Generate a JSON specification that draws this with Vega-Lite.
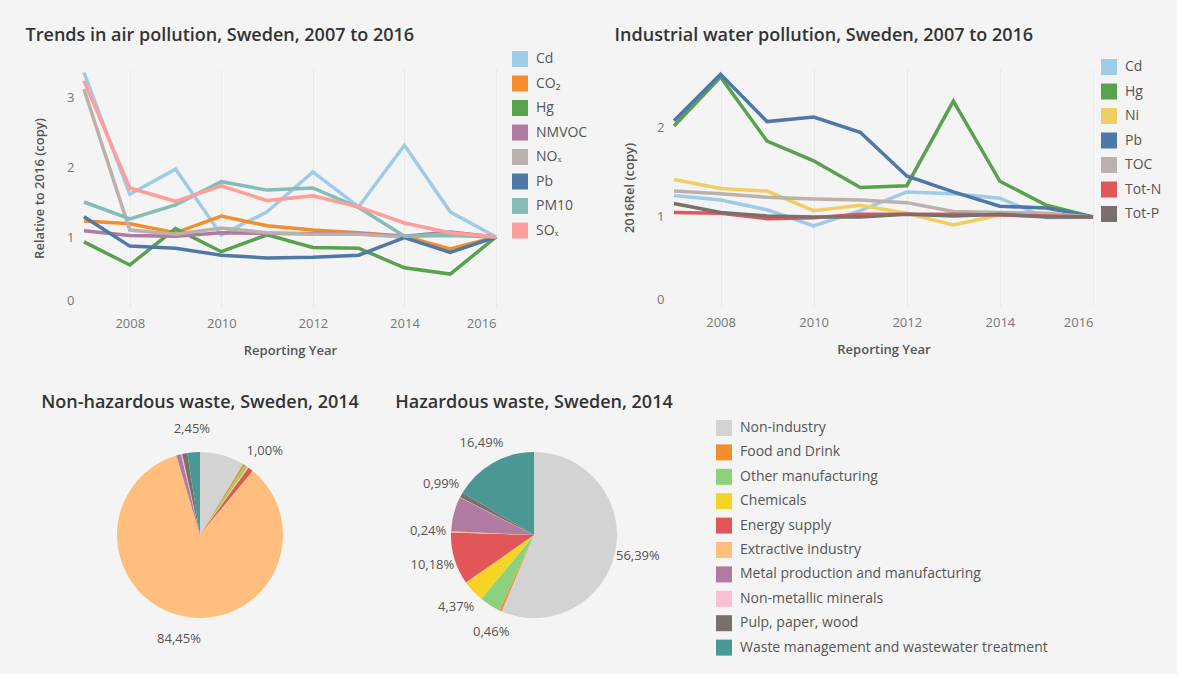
{
  "$schema": "https://vega.github.io/schema/vega-lite/v6.json",
  "background": "#f4f4f4",
  "padding": {"left": 25, "top": 27, "right": 15, "bottom": 18},
  "config": {
    "font": "Open Sans",
    "view": {"stroke": null},
    "axis": {"domain": false, "ticks": false, "labelColor": "#777777", "labelFontSize": 13, "titleColor": "#555555", "titleFontSize": 13, "titleFontWeight": 600, "grid": false},
    "title": {"fontSize": 18, "fontWeight": 600, "color": "#333333"},
    "legend": {"symbolType": "square", "symbolSize": 256, "labelFontSize": 14, "labelColor": "#555555", "rowPadding": 8.5, "labelOffset": 8, "symbolStrokeWidth": 0, "labelLimit": 400}
  },
  "datasets": {
    "air": [
      {"year": 2007, "pollutant": "Cd", "value": 3.35}, {"year": 2008, "pollutant": "Cd", "value": 1.61}, {"year": 2009, "pollutant": "Cd", "value": 1.97}, {"year": 2010, "pollutant": "Cd", "value": 1.03}, {"year": 2011, "pollutant": "Cd", "value": 1.36}, {"year": 2012, "pollutant": "Cd", "value": 1.93}, {"year": 2013, "pollutant": "Cd", "value": 1.43}, {"year": 2014, "pollutant": "Cd", "value": 2.31}, {"year": 2015, "pollutant": "Cd", "value": 1.36}, {"year": 2016, "pollutant": "Cd", "value": 1.0},
      {"year": 2007, "pollutant": "CO₂", "value": 1.23}, {"year": 2008, "pollutant": "CO₂", "value": 1.19}, {"year": 2009, "pollutant": "CO₂", "value": 1.06}, {"year": 2010, "pollutant": "CO₂", "value": 1.3}, {"year": 2011, "pollutant": "CO₂", "value": 1.16}, {"year": 2012, "pollutant": "CO₂", "value": 1.1}, {"year": 2013, "pollutant": "CO₂", "value": 1.06}, {"year": 2014, "pollutant": "CO₂", "value": 1.01}, {"year": 2015, "pollutant": "CO₂", "value": 0.83}, {"year": 2016, "pollutant": "CO₂", "value": 1.0},
      {"year": 2007, "pollutant": "Hg", "value": 0.93}, {"year": 2008, "pollutant": "Hg", "value": 0.6}, {"year": 2009, "pollutant": "Hg", "value": 1.12}, {"year": 2010, "pollutant": "Hg", "value": 0.79}, {"year": 2011, "pollutant": "Hg", "value": 1.03}, {"year": 2012, "pollutant": "Hg", "value": 0.85}, {"year": 2013, "pollutant": "Hg", "value": 0.84}, {"year": 2014, "pollutant": "Hg", "value": 0.56}, {"year": 2015, "pollutant": "Hg", "value": 0.47}, {"year": 2016, "pollutant": "Hg", "value": 1.0},
      {"year": 2007, "pollutant": "NMVOC", "value": 1.09}, {"year": 2008, "pollutant": "NMVOC", "value": 1.02}, {"year": 2009, "pollutant": "NMVOC", "value": 1.01}, {"year": 2010, "pollutant": "NMVOC", "value": 1.06}, {"year": 2011, "pollutant": "NMVOC", "value": 1.05}, {"year": 2012, "pollutant": "NMVOC", "value": 1.05}, {"year": 2013, "pollutant": "NMVOC", "value": 1.05}, {"year": 2014, "pollutant": "NMVOC", "value": 1.01}, {"year": 2015, "pollutant": "NMVOC", "value": 1.07}, {"year": 2016, "pollutant": "NMVOC", "value": 1.0},
      {"year": 2007, "pollutant": "NOₓ", "value": 3.11}, {"year": 2008, "pollutant": "NOₓ", "value": 1.1}, {"year": 2009, "pollutant": "NOₓ", "value": 1.04}, {"year": 2010, "pollutant": "NOₓ", "value": 1.13}, {"year": 2011, "pollutant": "NOₓ", "value": 1.06}, {"year": 2012, "pollutant": "NOₓ", "value": 1.04}, {"year": 2013, "pollutant": "NOₓ", "value": 1.04}, {"year": 2014, "pollutant": "NOₓ", "value": 1.0}, {"year": 2015, "pollutant": "NOₓ", "value": 1.05}, {"year": 2016, "pollutant": "NOₓ", "value": 1.0},
      {"year": 2007, "pollutant": "Pb", "value": 1.29}, {"year": 2008, "pollutant": "Pb", "value": 0.87}, {"year": 2009, "pollutant": "Pb", "value": 0.84}, {"year": 2010, "pollutant": "Pb", "value": 0.74}, {"year": 2011, "pollutant": "Pb", "value": 0.7}, {"year": 2012, "pollutant": "Pb", "value": 0.71}, {"year": 2013, "pollutant": "Pb", "value": 0.74}, {"year": 2014, "pollutant": "Pb", "value": 0.99}, {"year": 2015, "pollutant": "Pb", "value": 0.78}, {"year": 2016, "pollutant": "Pb", "value": 1.0},
      {"year": 2007, "pollutant": "PM10", "value": 1.5}, {"year": 2008, "pollutant": "PM10", "value": 1.26}, {"year": 2009, "pollutant": "PM10", "value": 1.46}, {"year": 2010, "pollutant": "PM10", "value": 1.79}, {"year": 2011, "pollutant": "PM10", "value": 1.67}, {"year": 2012, "pollutant": "PM10", "value": 1.7}, {"year": 2013, "pollutant": "PM10", "value": 1.42}, {"year": 2014, "pollutant": "PM10", "value": 1.01}, {"year": 2015, "pollutant": "PM10", "value": 1.02}, {"year": 2016, "pollutant": "PM10", "value": 1.0},
      {"year": 2007, "pollutant": "SOₓ", "value": 3.23}, {"year": 2008, "pollutant": "SOₓ", "value": 1.7}, {"year": 2009, "pollutant": "SOₓ", "value": 1.51}, {"year": 2010, "pollutant": "SOₓ", "value": 1.73}, {"year": 2011, "pollutant": "SOₓ", "value": 1.52}, {"year": 2012, "pollutant": "SOₓ", "value": 1.59}, {"year": 2013, "pollutant": "SOₓ", "value": 1.43}, {"year": 2014, "pollutant": "SOₓ", "value": 1.2}, {"year": 2015, "pollutant": "SOₓ", "value": 1.06}, {"year": 2016, "pollutant": "SOₓ", "value": 1.0}
    ],
    "water": [
      {"year": 2007, "pollutant": "Cd", "value": 1.24}, {"year": 2008, "pollutant": "Cd", "value": 1.19}, {"year": 2009, "pollutant": "Cd", "value": 1.08}, {"year": 2010, "pollutant": "Cd", "value": 0.9}, {"year": 2011, "pollutant": "Cd", "value": 1.07}, {"year": 2012, "pollutant": "Cd", "value": 1.28}, {"year": 2013, "pollutant": "Cd", "value": 1.26}, {"year": 2014, "pollutant": "Cd", "value": 1.21}, {"year": 2015, "pollutant": "Cd", "value": 0.99}, {"year": 2016, "pollutant": "Cd", "value": 1.0},
      {"year": 2007, "pollutant": "Hg", "value": 2.02}, {"year": 2008, "pollutant": "Hg", "value": 2.57}, {"year": 2009, "pollutant": "Hg", "value": 1.85}, {"year": 2010, "pollutant": "Hg", "value": 1.63}, {"year": 2011, "pollutant": "Hg", "value": 1.33}, {"year": 2012, "pollutant": "Hg", "value": 1.35}, {"year": 2013, "pollutant": "Hg", "value": 2.3}, {"year": 2014, "pollutant": "Hg", "value": 1.4}, {"year": 2015, "pollutant": "Hg", "value": 1.13}, {"year": 2016, "pollutant": "Hg", "value": 1.0},
      {"year": 2007, "pollutant": "Ni", "value": 1.42}, {"year": 2008, "pollutant": "Ni", "value": 1.32}, {"year": 2009, "pollutant": "Ni", "value": 1.29}, {"year": 2010, "pollutant": "Ni", "value": 1.07}, {"year": 2011, "pollutant": "Ni", "value": 1.13}, {"year": 2012, "pollutant": "Ni", "value": 1.04}, {"year": 2013, "pollutant": "Ni", "value": 0.91}, {"year": 2014, "pollutant": "Ni", "value": 1.02}, {"year": 2015, "pollutant": "Ni", "value": 1.02}, {"year": 2016, "pollutant": "Ni", "value": 1.0},
      {"year": 2007, "pollutant": "Pb", "value": 2.08}, {"year": 2008, "pollutant": "Pb", "value": 2.6}, {"year": 2009, "pollutant": "Pb", "value": 2.07}, {"year": 2010, "pollutant": "Pb", "value": 2.12}, {"year": 2011, "pollutant": "Pb", "value": 1.95}, {"year": 2012, "pollutant": "Pb", "value": 1.46}, {"year": 2013, "pollutant": "Pb", "value": 1.28}, {"year": 2014, "pollutant": "Pb", "value": 1.12}, {"year": 2015, "pollutant": "Pb", "value": 1.1}, {"year": 2016, "pollutant": "Pb", "value": 1.0},
      {"year": 2007, "pollutant": "TOC", "value": 1.29}, {"year": 2008, "pollutant": "TOC", "value": 1.26}, {"year": 2009, "pollutant": "TOC", "value": 1.22}, {"year": 2010, "pollutant": "TOC", "value": 1.2}, {"year": 2011, "pollutant": "TOC", "value": 1.19}, {"year": 2012, "pollutant": "TOC", "value": 1.16}, {"year": 2013, "pollutant": "TOC", "value": 1.06}, {"year": 2014, "pollutant": "TOC", "value": 1.05}, {"year": 2015, "pollutant": "TOC", "value": 1.04}, {"year": 2016, "pollutant": "TOC", "value": 1.0},
      {"year": 2007, "pollutant": "Tot-N", "value": 1.05}, {"year": 2008, "pollutant": "Tot-N", "value": 1.04}, {"year": 2009, "pollutant": "Tot-N", "value": 0.98}, {"year": 2010, "pollutant": "Tot-N", "value": 0.99}, {"year": 2011, "pollutant": "Tot-N", "value": 1.03}, {"year": 2012, "pollutant": "Tot-N", "value": 1.03}, {"year": 2013, "pollutant": "Tot-N", "value": 1.03}, {"year": 2014, "pollutant": "Tot-N", "value": 1.02}, {"year": 2015, "pollutant": "Tot-N", "value": 1.01}, {"year": 2016, "pollutant": "Tot-N", "value": 1.0},
      {"year": 2007, "pollutant": "Tot-P", "value": 1.15}, {"year": 2008, "pollutant": "Tot-P", "value": 1.05}, {"year": 2009, "pollutant": "Tot-P", "value": 1.01}, {"year": 2010, "pollutant": "Tot-P", "value": 1.0}, {"year": 2011, "pollutant": "Tot-P", "value": 1.0}, {"year": 2012, "pollutant": "Tot-P", "value": 1.03}, {"year": 2013, "pollutant": "Tot-P", "value": 1.01}, {"year": 2014, "pollutant": "Tot-P", "value": 1.03}, {"year": 2015, "pollutant": "Tot-P", "value": 1.0}, {"year": 2016, "pollutant": "Tot-P", "value": 1.0}
    ],
    "nonhaz": [
      {"idx": 1, "sector": "Non-industry", "pct": 8.70},
      {"idx": 2, "sector": "Food and Drink", "pct": 0.45},
      {"idx": 3, "sector": "Other manufacturing", "pct": 0.55},
      {"idx": 4, "sector": "Chemicals", "pct": 0.25},
      {"idx": 5, "sector": "Energy supply", "pct": 1.00},
      {"idx": 6, "sector": "Extractive industry", "pct": 84.45},
      {"idx": 7, "sector": "Metal production and manufacturing", "pct": 0.95},
      {"idx": 8, "sector": "Non-metallic minerals", "pct": 0.20},
      {"idx": 9, "sector": "Pulp, paper, wood", "pct": 1.00},
      {"idx": 10, "sector": "Waste management and wastewater treatment", "pct": 2.45}
    ],
    "haz": [
      {"idx": 1, "sector": "Non-industry", "pct": 56.39},
      {"idx": 2, "sector": "Food and Drink", "pct": 0.46},
      {"idx": 3, "sector": "Other manufacturing", "pct": 4.10},
      {"idx": 4, "sector": "Chemicals", "pct": 4.37},
      {"idx": 5, "sector": "Energy supply", "pct": 10.18},
      {"idx": 6, "sector": "Extractive industry", "pct": 0.24},
      {"idx": 7, "sector": "Metal production and manufacturing", "pct": 6.70},
      {"idx": 8, "sector": "Non-metallic minerals", "pct": 0.08},
      {"idx": 9, "sector": "Pulp, paper, wood", "pct": 0.99},
      {"idx": 10, "sector": "Waste management and wastewater treatment", "pct": 16.49}
    ]
  },
  "vconcat": [
    {
      "hconcat": [
        {
          "name": "airv",
          "title": {"text": "Trends in air pollution, Sweden, 2007 to 2016", "anchor": "start", "dx": -8, "offset": 6},
          "width": 412, "height": 238,
          "data": {"name": "air"},
          "mark": {"type": "line", "strokeWidth": 3.5},
          "encoding": {
            "x": {"field": "year", "type": "quantitative", "scale": {"domain": [2007, 2016], "nice": false, "zero": false},
                  "axis": {"title": "Reporting Year", "values": [2008, 2010, 2012, 2014, 2016], "format": "d", "labelFlush": true, "grid": true, "gridColor": "#e9e9e9", "labelPadding": 10, "titlePadding": 14}},
            "y": {"field": "value", "type": "quantitative", "scale": {"domain": [0, 3.4], "nice": false},
                  "axis": {"title": "Relative to 2016 (copy)", "values": [0, 1, 2, 3], "labelFlush": true, "labelPadding": 10, "titlePadding": 20}},
            "color": {"field": "pollutant", "type": "nominal",
                      "scale": {"domain": ["Cd", "CO₂", "Hg", "NMVOC", "NOₓ", "Pb", "PM10", "SOₓ"], "range": ["#a0cbe8", "#f28e2b", "#59a14f", "#b07aa1", "#bab0ac", "#4e79a7", "#86bcb6", "#ff9d9a"]},
                      "legend": {"title": null, "orient": "none", "legendX": 428, "legendY": -18,
                                 "encode": {"symbols": {"update": {"fill": {"scale": "airv_color", "field": "value"}, "strokeWidth": {"value": 0}}}}}}
          }
        },
        {
          "name": "waterv",
          "title": {"text": "Industrial water pollution, Sweden, 2007 to 2016", "anchor": "start", "dx": -9, "offset": 14},
          "width": 419, "height": 237,
          "data": {"name": "water"},
          "mark": {"type": "line", "strokeWidth": 3.5},
          "encoding": {
            "x": {"field": "year", "type": "quantitative", "scale": {"domain": [2007, 2016], "nice": false, "zero": false},
                  "axis": {"title": "Reporting Year", "values": [2008, 2010, 2012, 2014, 2016], "format": "d", "labelFlush": true, "grid": true, "gridColor": "#e9e9e9", "labelPadding": 10, "titlePadding": 14}},
            "y": {"field": "value", "type": "quantitative", "scale": {"domain": [0, 2.66], "nice": false},
                  "axis": {"title": "2016Rel (copy)", "values": [0, 1, 2], "labelFlush": true, "labelPadding": 10, "titlePadding": 20}},
            "color": {"field": "pollutant", "type": "nominal",
                      "scale": {"domain": ["Cd", "Hg", "Ni", "Pb", "TOC", "Tot-N", "Tot-P"], "range": ["#a0cbe8", "#59a14f", "#f1ce63", "#4e79a7", "#bab0ac", "#e15759", "#79706e"]},
                      "legend": {"title": null, "orient": "none", "legendX": 427, "legendY": -10,
                                 "encode": {"symbols": {"update": {"fill": {"scale": "waterv_color", "field": "value"}, "strokeWidth": {"value": 0}}}}}}
          }
        }
      ],
      "spacing": 26,
      "resolve": {"scale": {"color": "independent"}, "legend": {"color": "independent"}}
    },
    {
      "hconcat": [
        {
          "title": {"text": "Non-hazardous waste, Sweden, 2014", "anchor": "middle", "offset": 8},
          "width": 232, "height": 230,
          "data": {"name": "nonhaz"},
          "transform": [{"calculate": "replace(format(datum.pct, '.2f'), '.', ',') + '%'", "as": "label"}],
          "layer": [
            {
              "mark": {"type": "arc", "outerRadius": 83},
              "encoding": {
                "theta": {"field": "pct", "type": "quantitative", "stack": true},
                "order": {"field": "idx", "type": "quantitative"},
                "color": {"field": "sector", "type": "nominal",
                          "scale": {"domain": ["Non-industry", "Food and Drink", "Other manufacturing", "Chemicals", "Energy supply", "Extractive industry", "Metal production and manufacturing", "Non-metallic minerals", "Pulp, paper, wood", "Waste management and wastewater treatment"],
                                    "range": ["#d3d3d3", "#f28e2b", "#8cd17d", "#f5d327", "#e15759", "#ffbe7d", "#b07aa1", "#fabfd2", "#79706e", "#499894"]},
                          "legend": {"title": null, "offset": 43, "rowPadding": 8.4}}
              }
            },
            {
              "mark": {"type": "text", "radius": 106, "fontSize": 13, "color": "#555555"},
              "encoding": {
                "theta": {"field": "pct", "type": "quantitative", "stack": true},
                "order": {"field": "idx", "type": "quantitative"},
                "text": {"condition": {"test": "indexof(['Energy supply', 'Extractive industry', 'Waste management and wastewater treatment'], datum.sector) >= 0", "field": "label", "type": "nominal"}, "value": ""}
              }
            }
          ]
        },
        {
          "title": {"text": "Hazardous waste, Sweden, 2014", "anchor": "middle", "offset": 8},
          "width": 250, "height": 230,
          "data": {"name": "haz"},
          "transform": [{"calculate": "replace(format(datum.pct, '.2f'), '.', ',') + '%'", "as": "label"}],
          "layer": [
            {
              "mark": {"type": "arc", "outerRadius": 83},
              "encoding": {
                "theta": {"field": "pct", "type": "quantitative", "stack": true},
                "order": {"field": "idx", "type": "quantitative"},
                "color": {"field": "sector", "type": "nominal",
                          "scale": {"domain": ["Non-industry", "Food and Drink", "Other manufacturing", "Chemicals", "Energy supply", "Extractive industry", "Metal production and manufacturing", "Non-metallic minerals", "Pulp, paper, wood", "Waste management and wastewater treatment"],
                                    "range": ["#d3d3d3", "#f28e2b", "#8cd17d", "#f5d327", "#e15759", "#ffbe7d", "#b07aa1", "#fabfd2", "#79706e", "#499894"]},
                          "legend": {"title": null, "offset": 43, "rowPadding": 8.4}}
              }
            },
            {
              "mark": {"type": "text", "radius": 106, "fontSize": 13, "color": "#555555"},
              "encoding": {
                "theta": {"field": "pct", "type": "quantitative", "stack": true},
                "order": {"field": "idx", "type": "quantitative"},
                "text": {"condition": {"test": "indexof(['Non-industry', 'Food and Drink', 'Chemicals', 'Energy supply', 'Extractive industry', 'Pulp, paper, wood', 'Waste management and wastewater treatment'], datum.sector) >= 0", "field": "label", "type": "nominal"}, "value": ""}
              }
            }
          ]
        }
      ],
      "spacing": 36
    }
  ],
  "spacing": 37,
  "resolve": {"scale": {"color": "independent"}, "legend": {"color": "independent"}}
}
